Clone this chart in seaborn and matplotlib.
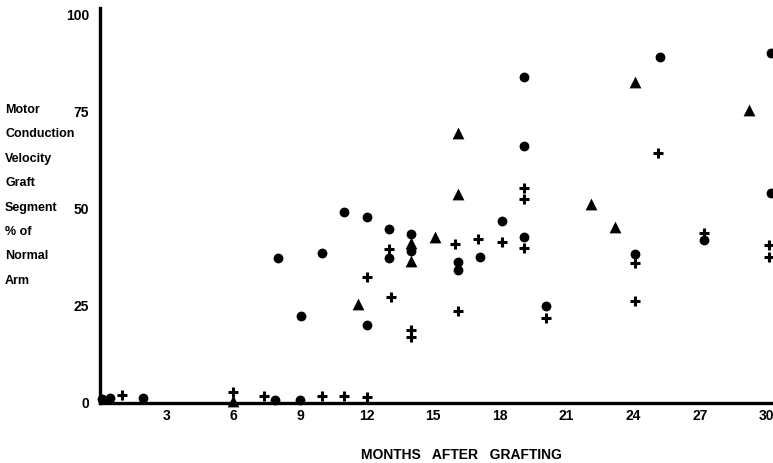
import matplotlib
matplotlib.use("Agg")
import matplotlib.pyplot as plt
import seaborn as sns
import pandas as pd

# ---- data (months after grafting, % of normal arm) ----
circle_months = [0.1, 0.45, 1.95, 7.9, 9.0, 8.0, 9.05, 10.0, 11.0, 12.0, 12.0, 13.0, 13.0,
                 14.0, 14.0, 16.1, 16.1, 17.1, 18.1, 19.1, 19.1, 19.1, 20.1, 24.1,
                 25.2, 27.2, 30.2, 30.2]
circle_values = [1.0, 1.2, 1.3, 0.8, 0.8, 37.4, 22.4, 38.7, 49.2, 47.9, 20.1, 44.8, 37.4,
                 43.6, 39.2, 36.3, 34.3, 37.6, 46.9, 84.0, 66.2, 42.8, 25.0, 38.4,
                 89.2, 42.0, 90.2, 54.1]

triangle_months = [6.0, 11.6, 14.0, 14.0, 15.1, 16.1, 16.1, 22.1, 23.2, 24.1, 29.2]
triangle_values = [0.6, 25.5, 41.2, 36.6, 42.8, 53.9, 69.6, 51.3, 45.4, 82.7, 75.5]

plus_months = [1.0, 6.0, 7.4, 10.0, 11.0, 12.0, 12.0, 13.0, 13.1, 14.0, 14.0, 16.0, 16.1,
               17.0, 18.1, 19.1, 19.1, 19.1, 20.1, 24.1, 24.1, 25.1, 27.2, 30.1, 30.1]
plus_values = [2.0, 2.8, 1.8, 1.8, 1.8, 1.5, 32.4, 39.7, 27.3, 18.8, 17.0, 41.0, 23.7,
               42.3, 41.5, 55.4, 52.6, 39.9, 21.9, 36.1, 26.3, 64.4, 43.8, 40.7, 37.6]

x_ticks = [3, 6, 9, 12, 15, 18, 21, 24, 27, 30]
y_ticks = [0, 25, 50, 75, 100]
y_label_lines = ["Motor", "Conduction", "Velocity", "Graft", "Segment", "% of", "Normal", "Arm"]
x_label = "MONTHS   AFTER   GRAFTING"

sns.set_style("white")
plt.rcParams["font.family"] = ["Liberation Sans", "DejaVu Sans"]
for key in ["text.color", "xtick.color", "ytick.color", "axes.labelcolor", "axes.edgecolor"]:
    plt.rcParams[key] = "black"

W, H = 773, 463
fig = plt.figure(figsize=(W / 100, H / 100), dpi=100)
ax = fig.add_axes([100 / W, 60 / H, 673 / W, 395 / H])

df_c = pd.DataFrame({"m": circle_months, "v": circle_values})
df_t = pd.DataFrame({"m": triangle_months, "v": triangle_values})
df_p = pd.DataFrame({"m": plus_months, "v": plus_values})

sns.scatterplot(data=df_c, x="m", y="v", ax=ax, marker="o", s=50, color="black",
                edgecolor="black", linewidth=0, clip_on=False, zorder=3)
sns.scatterplot(data=df_t, x="m", y="v", ax=ax, marker="^", s=72, color="black",
                edgecolor="black", linewidth=0, clip_on=False, zorder=3)
sns.scatterplot(data=df_p, x="m", y="v", ax=ax, marker="+", s=60, color="black",
                linewidth=2.2, clip_on=False, zorder=3)

ax.set_xlim(0, 30.3)
ax.set_ylim(0, 101.8)
ax.set_xticks(x_ticks)
ax.set_xticklabels([str(t) for t in x_ticks], fontsize=10, fontweight="bold")
ax.set_yticks(y_ticks)
ax.set_yticklabels([str(t) for t in y_ticks], fontsize=10, fontweight="bold")
ax.tick_params(axis="both", length=0)
ax.tick_params(axis="x", pad=4)
ax.tick_params(axis="y", pad=8)
ax.set_xlabel("")
ax.set_ylabel("")

for side in ["top", "right"]:
    ax.spines[side].set_visible(False)
for side in ["left", "bottom"]:
    ax.spines[side].set_linewidth(2.4)
    ax.spines[side].set_color("black")

# y label block (left side, stacked lines)
y0 = 110
for i, line in enumerate(y_label_lines):
    ypx = y0 + i * 24.4
    fig.text(5 / W, 1 - ypx / H, line, ha="left", va="center", fontsize=9,
             fontweight="bold")

fig.text(461 / W, 1 - 455 / H, x_label, ha="center", va="center", fontsize=10,
         fontweight="bold")

fig.savefig("out.png", dpi=100)
